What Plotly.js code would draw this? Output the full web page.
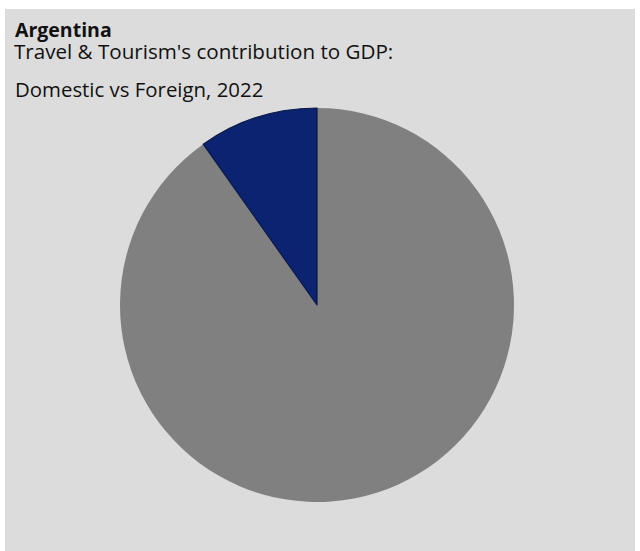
<!DOCTYPE html>
<html>
<head>
<meta charset="utf-8">
<script src="https://cdn.plot.ly/plotly-3.0.1.min.js"></script>
<style>
  html, body { margin: 0; padding: 0; background: #ffffff; width: 640px; height: 551px; overflow: hidden; }
  #chart { position: absolute; left: 5px; top: 9px; width: 630px; height: 542px; }
</style>
</head>
<body>
<div id="chart"></div>
<script>
const categories = ["Domestic", "Foreign"];
const shares = [90.2, 9.8];
const sliceColors = ["#808080", "#0b2370"];
const titleLines = ["Argentina", "Travel & Tourism's contribution to GDP:", "Domestic vs Foreign, 2022"];

const W = 630, H = 542;
const trace = {
  type: "pie",
  labels: categories,
  values: shares,
  sort: false,
  direction: "clockwise",
  rotation: 0,
  textinfo: "none",
  hoverinfo: "label+percent",
  marker: { colors: sliceColors, line: { color: ["#808080", "#0a1845"], width: [0, 1.2] } },
  domain: { x: [115 / W, 509 / W], y: [49 / H, 443 / H] },
  showlegend: false
};

const font = "Open Sans, Noto Sans, sans-serif";
const layout = {
  width: W, height: H,
  margin: { l: 0, r: 0, t: 0, b: 0 },
  paper_bgcolor: "#dcdcdc",
  plot_bgcolor: "#dcdcdc",
  showlegend: false,
  annotations: [
    { text: "<b>" + titleLines[0] + "</b>", x: 8 / W, y: 1 - 20.5 / H, xref: "paper", yref: "paper", xanchor: "left", yanchor: "middle", showarrow: false, font: { family: font, size: 19.5, color: "#111111" } },
    { text: titleLines[1], x: 7 / W, y: 1 - 42.5 / H, xref: "paper", yref: "paper", xanchor: "left", yanchor: "middle", showarrow: false, font: { family: font, size: 20.6, color: "#111111" } },
    { text: titleLines[2], x: 8 / W, y: 1 - 79.5 / H, xref: "paper", yref: "paper", xanchor: "left", yanchor: "middle", showarrow: false, font: { family: font, size: 20.4, color: "#111111" } }
  ]
};
Plotly.newPlot("chart", [trace], layout, { displayModeBar: false, staticPlot: true });
</script>
</body>
</html>
